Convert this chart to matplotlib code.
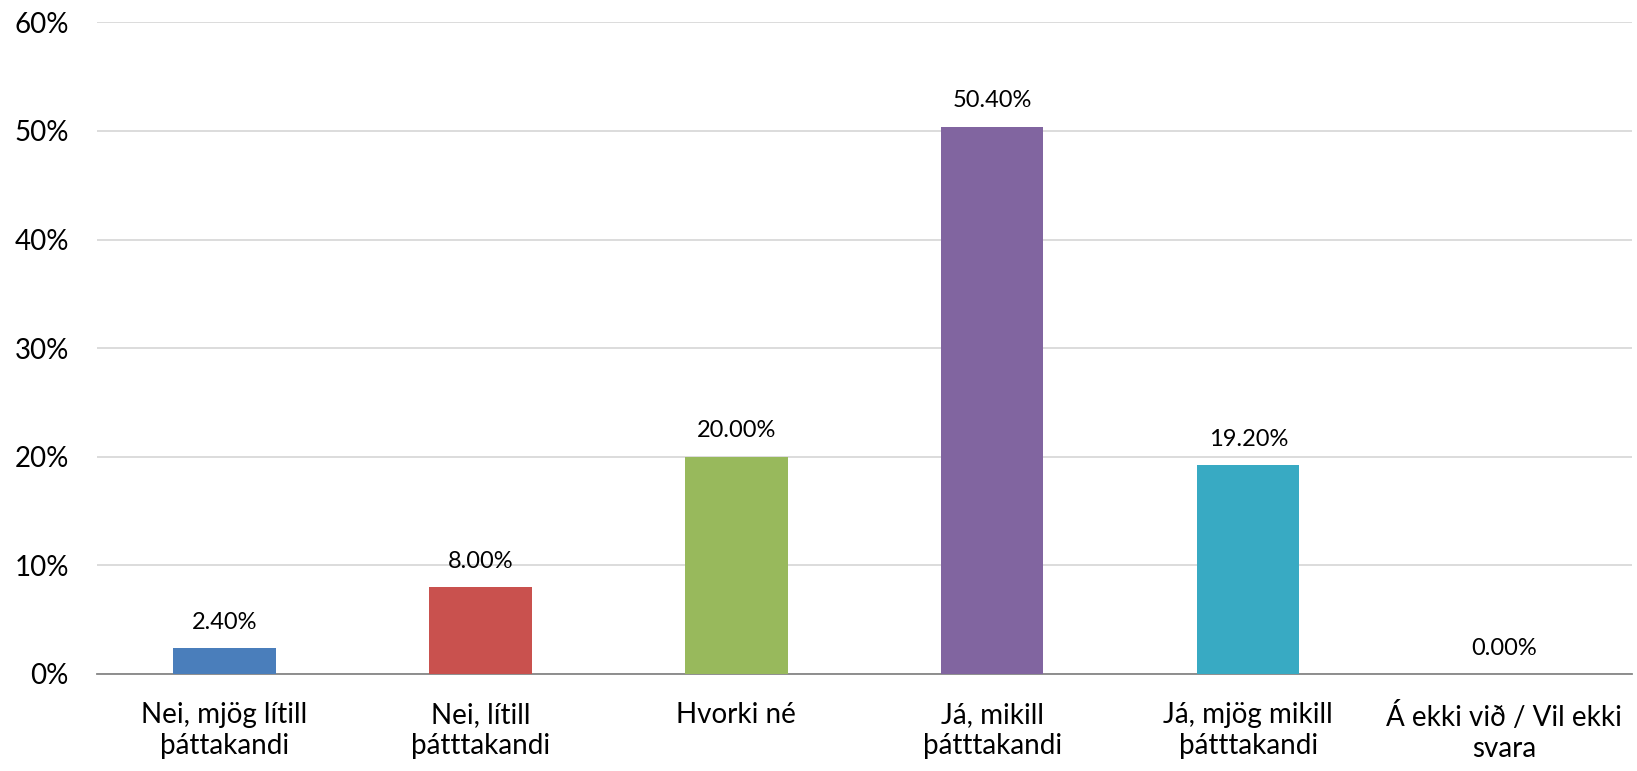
import matplotlib.pyplot as plt
from matplotlib.ticker import FuncFormatter

categories = ["Nei, mjög lítill\nþáttakandi", "Nei, lítill\nþátttakandi", "Hvorki né",
              "Já, mikill\nþátttakandi", "Já, mjög mikill\nþátttakandi", "Á ekki við / Vil ekki\nsvara"]
values = [2.40, 8.00, 20.00, 50.40, 19.20, 0.00]
colors = ["#4A7EBB", "#C9514E", "#98B95C", "#8165A0", "#38AAC3", "#F79646"]

plt.rcParams['font.family'] = ['Lato', 'DejaVu Sans']

fig = plt.figure(figsize=(16.37, 7.71), dpi=100)
ax = fig.add_axes([0.059, 0.126, 0.938, 0.845])

x = range(len(categories))
bars = ax.bar(x, values, width=0.4, color=colors, zorder=3)
for xi, v in zip(x, values):
    ax.text(xi, v + 1.4, f"{v:.2f}%", ha='center', va='bottom', fontsize=17)

ax.set_xlim(-0.5, len(categories) - 0.5)
ax.set_ylim(0, 60)
ax.set_yticks(range(0, 61, 10))
ax.yaxis.set_major_formatter(FuncFormatter(lambda v, p: f"{v:.0f}%"))
ax.set_xticks(list(x))
ax.set_xticklabels(categories, fontsize=20, linespacing=1.25)
ax.tick_params(axis='y', labelsize=20, length=0, pad=20)
ax.tick_params(axis='x', length=0, pad=20)
ax.grid(axis='y', color='#D9D9D9', linewidth=1.3, zorder=0)
for s in ['top', 'right', 'left']:
    ax.spines[s].set_visible(False)
ax.spines['bottom'].set_color('#868686')
ax.spines['bottom'].set_linewidth(1.3)

fig.savefig("out.png", dpi=100)
